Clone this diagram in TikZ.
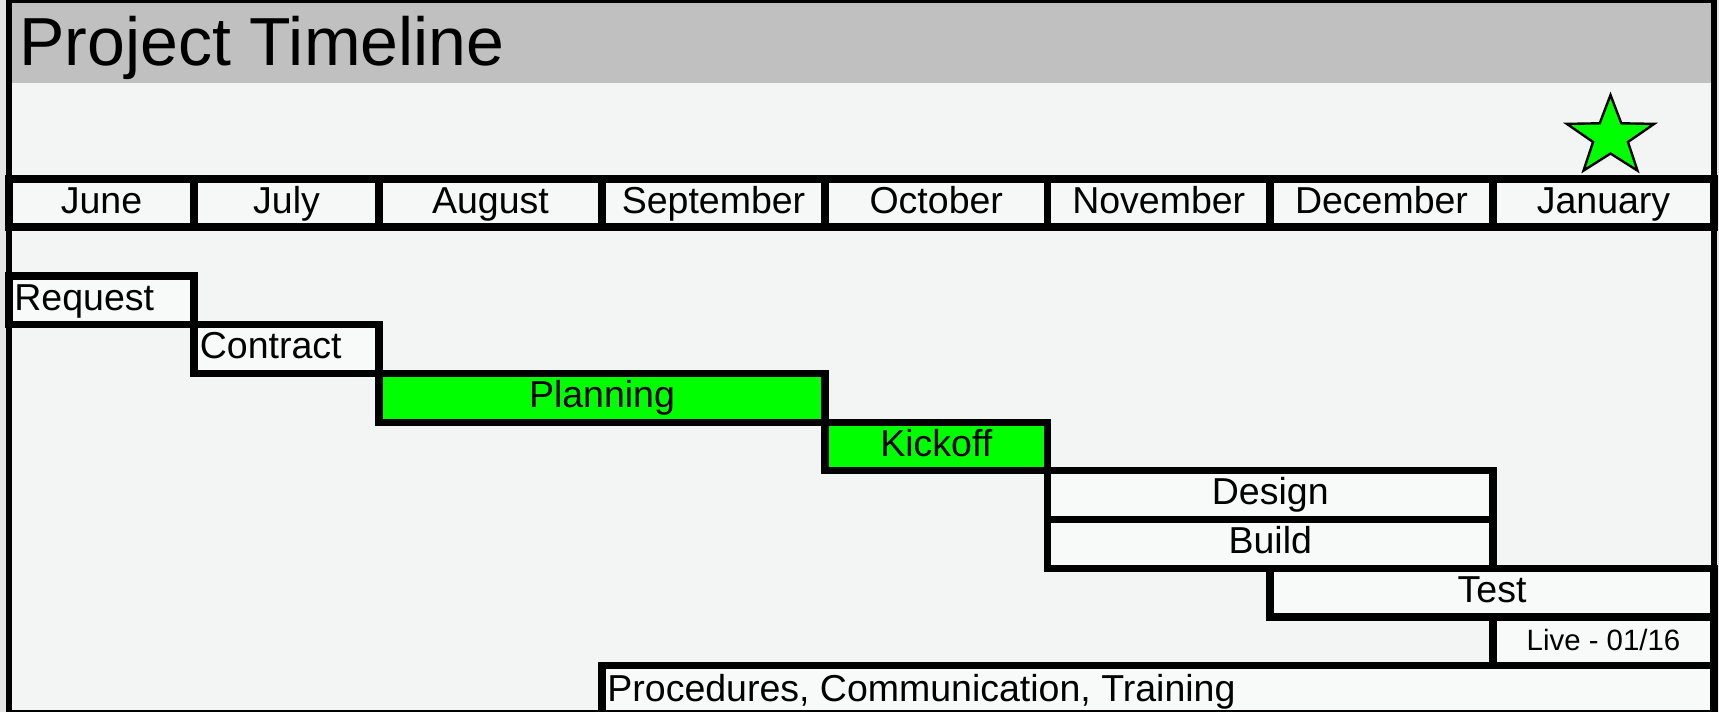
\documentclass[tikz,border=0pt]{standalone}
\usepackage{fontspec}
\setmainfont{Liberation Sans}
\definecolor{bggrey}{HTML}{F3F5F5}
\definecolor{titlegrey}{HTML}{C0C0C0}
\definecolor{cellwhite}{HTML}{F6F8F8}
\definecolor{barwhite}{HTML}{F8F9F9}
\definecolor{limegreen}{HTML}{00FF00}
\definecolor{edgegrey}{HTML}{E4E4E4}
\tikzset{
  frameline/.style={draw=black, line width=3pt},
  monthcell/.style={draw=black, line width=3.7pt, fill=cellwhite},
  barbox/.style={draw=black, line width=3.6pt, fill=barwhite},
  greenbox/.style={barbox, fill=limegreen},
  starline/.style={draw=black, line width=1.2pt, fill=limegreen, line join=miter},
  monthtext/.style={font=\fontsize{18.75}{20}\selectfont, inner sep=0pt, anchor=base},
  bartext/.style={font=\fontsize{18.75}{20}\selectfont, inner sep=0pt},
  livetext/.style={font=\fontsize{14.7}{16}\selectfont, inner sep=0pt, anchor=base},
  titletext/.style={font=\fontsize{34}{36}\selectfont, inner sep=0pt, anchor=base west}
}
\begin{document}
\begin{tikzpicture}[x=0.5pt,y=-0.5pt]
\useasboundingbox (0,0) rectangle (1719,712);
\clip (0,0) rectangle (1719,712);
% background
\fill[edgegrey] (0,0) rectangle (1719,712);
\fill[bggrey] (9,0) rectangle (1714,712);
\fill[titlegrey] (9,0) rectangle (1714,83);
\node[titletext] (title) at (19,65) {Project Timeline};
% star
\coordinate (starc) at (1610.5,136.8);
\begin{scope}[shift={(starc)}, xscale=1.098]
\draw[starline] (-90:41.8) -- (-54:16.7) -- (-18:41.8) -- (18:16.7) -- (54:41.8) -- (90:16.7) -- (126:41.8) -- (162:16.7) -- (198:41.8) -- (234:16.7) -- cycle;
\end{scope}
% months
\foreach \a/\b/\m [count=\i] in {9/194/June, 194/379/July, 379/602/August, 602/825/September, 825/1047.5/October, 1047.5/1270/November, 1270/1493/December, 1493/1714/January}
{
  \draw[monthcell] (\a,179) rectangle (\b,227);
  \node[monthtext] (month\i) at ({(\a+\b)/2},213.3) {\m};
}
% bars
\draw[barbox] (9,276) rectangle (194,324.7);
\node[bartext, anchor=base west] (request) at (14,310) {Request};
\draw[barbox] (194,324.7) rectangle (379,373.4);
\node[bartext, anchor=base west] (contract) at (199.5,358.7) {Contract};
\draw[greenbox] (379,373.4) rectangle (825,422.1);
\node[bartext, anchor=base] (planning) at (602,407.4) {Planning};
\draw[greenbox] (825,422.1) rectangle (1047.5,470.8);
\node[bartext, anchor=base] (kickoff) at (936.25,456.1) {Kickoff};
\draw[barbox] (1047.5,470.8) rectangle (1493,519.5);
\node[bartext, anchor=base] (design) at (1270.25,504.8) {Design};
\draw[barbox] (1047.5,519.5) rectangle (1493,568.2);
\node[bartext, anchor=base] (build) at (1270.25,553.5) {Build};
\draw[barbox] (1270,568.2) rectangle (1714,616.9);
\node[bartext, anchor=base] (test) at (1492,602.2) {Test};
\draw[barbox] (1493,616.9) rectangle (1714,665.6);
\node[livetext] (live) at (1603.5,650.7) {Live - 01/16};
\draw[barbox] (602,665.6) rectangle (1714,714.3);
\node[bartext, anchor=base west] (procedures) at (607,701.4) {Procedures, Communication, Training};
% outer frame
\draw[frameline] (9,0) rectangle (1714,713);
\end{tikzpicture}
\end{document}
